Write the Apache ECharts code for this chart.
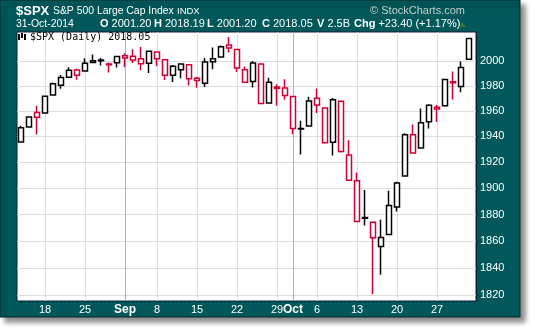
<!DOCTYPE html>
<html><head><meta charset="utf-8">
<script src="https://cdn.jsdelivr.net/npm/echarts@6/dist/echarts.min.js"></script>
<style>html,body{margin:0;padding:0;background:#fff}#c{width:535px;height:333px}</style>
</head><body><div id="c"></div>
<script>
// ---- data (S&P 500 daily) ----
const dates = ['Aug 13','Aug 14','Aug 15','Aug 18','Aug 19','Aug 20','Aug 21','Aug 22','Aug 25','Aug 26','Aug 27','Aug 28','Aug 29',
  'Sep 2','Sep 3','Sep 4','Sep 5','Sep 8','Sep 9','Sep 10','Sep 11','Sep 12','Sep 15','Sep 16','Sep 17','Sep 18','Sep 19','Sep 22','Sep 23','Sep 24','Sep 25','Sep 26','Sep 29','Sep 30',
  'Oct 1','Oct 2','Oct 3','Oct 6','Oct 7','Oct 8','Oct 9','Oct 10','Oct 13','Oct 14','Oct 15','Oct 16','Oct 17','Oct 20','Oct 21','Oct 22','Oct 23','Oct 24','Oct 27','Oct 28','Oct 29','Oct 30','Oct 31'];
const opens = [1935.60,1947.41,1958.87,1958.36,1972.73,1980.46,1986.82,1992.60,1991.74,1998.59,2000.54,1997.42,1998.45,
  2004.07,2003.57,2001.67,1998.00,2007.17,2000.73,1988.41,1992.85,1996.74,1986.04,1981.93,1999.30,2003.07,2012.74,2009.08,1992.78,1983.34,1997.32,1966.22,1978.96,1978.21,
  1971.44,1945.83,1948.12,1970.01,1962.36,1935.55,1967.68,1925.63,1905.65,1877.11,1874.18,1855.95,1864.91,1885.62,1909.38,1941.29,1931.02,1951.59,1962.97,1964.14,1983.29,1979.49,2001.20];
const highs = [1948.41,1955.23,1964.04,1971.99,1982.57,1988.57,1994.76,1993.54,2001.95,2005.04,2002.14,1998.55,2003.38,
  2006.12,2009.28,2011.17,2007.71,2007.17,2001.01,1996.66,1997.65,1996.74,1987.18,2002.28,2010.74,2012.34,2019.26,2009.08,1995.41,1999.79,1997.32,1986.37,1981.28,1985.17,
  1971.44,1952.32,1971.19,1977.84,1962.36,1970.36,1967.68,1936.98,1912.09,1898.71,1874.18,1876.01,1898.16,1905.03,1942.45,1949.31,1961.95,1965.27,1964.64,1985.05,1991.40,1999.40,2018.19];
const lows = [1935.60,1947.41,1941.50,1958.36,1972.73,1977.68,1986.82,1984.76,1991.74,1998.59,1996.20,1990.52,1994.65,
  1994.85,1998.14,1992.44,1990.10,1995.60,1984.61,1982.99,1985.93,1980.26,1978.48,1979.06,1993.29,2003.07,2006.59,1991.01,1982.77,1978.63,1965.99,1966.22,1964.04,1968.96,
  1941.72,1926.03,1948.12,1958.43,1935.10,1925.25,1927.56,1906.05,1874.14,1871.79,1820.66,1835.02,1864.91,1882.30,1909.38,1926.83,1931.02,1946.27,1951.37,1964.14,1969.04,1974.75,2001.20];
const closes = [1946.72,1955.18,1955.06,1971.74,1981.60,1986.51,1992.37,1988.40,1997.92,2000.02,2000.12,1996.74,2003.37,
  2002.28,2000.72,1997.65,2007.71,2001.54,1988.44,1995.69,1997.45,1985.54,1984.13,1998.98,2001.57,2011.36,2010.40,1994.29,1982.77,1998.30,1965.99,1982.85,1977.80,1972.29,
  1946.16,1946.17,1967.90,1964.82,1935.10,1968.89,1928.21,1906.13,1874.74,1877.70,1862.49,1862.76,1886.76,1904.01,1941.28,1927.11,1950.82,1964.58,1961.63,1985.05,1982.30,1994.65,2018.05];
const volumeLabel = '2.5B';
const tickDates = ['Aug 18','Aug 25','Sep 2','Sep 8','Sep 15','Sep 22','Sep 29','Oct 1','Oct 6','Oct 13','Oct 20','Oct 27'];
const tickLabels = ['18','25','Sep','8','15','22','29','Oct','6','13','20','27'];
const monthLabels = ['Sep','Oct'];
const yTicks = [1820,1840,1860,1880,1900,1920,1940,1960,1980,2000];

// ---- build ----
const RED = '#d20032', BLACK = '#000000';
const candleData = opens.map((o, i) => {
  const c = closes[i];
  const col = (i > 0 && c < closes[i - 1]) ? RED : BLACK;
  return {
    value: [o, c, lows[i], highs[i]],
    itemStyle: { color: '#ffffff', color0: col, borderColor: col, borderColor0: col }
  };
});
const tickIdx = tickDates.map(d => dates.indexOf(d));
const splitColors = tickLabels.map(l => monthLabels.includes(l) ? '#b4b4b4' : '#dcdcdc');

const n = closes.length;
const last = n - 1;
const chg = closes[last] - closes[last - 1];
const pct = chg / closes[last - 1] * 100;
const sgn = v => (v >= 0 ? '+' : '') + v.toFixed(2);

const FONT = '"Liberation Sans", Arial, sans-serif';
const yMin = 1815.7, yMax = 2023.3;

const chart = echarts.init(document.getElementById('c'), null, { renderer: 'canvas' });

const hdr = (label, value, x) => ({
  type: 'text', z: 100, x: x, y: 24,
  style: {
    text: '{b|' + label + '} ' + value, fill: '#fff', font: '11px ' + FONT, textVerticalAlign: 'middle',
    rich: { b: { fontWeight: 'bold', fontSize: 11, fontFamily: FONT, fill: '#fff' } }
  }
});

const option = {
  animation: false,
  grid: [
    { left: 17, right: 59, top: 32, bottom: 32, show: true, backgroundColor: '#ffffff', borderColor: '#0f1f3a', borderWidth: 1, outerBoundsMode: 'none', containLabel: false },
    { left: 17, width: 456, top: 32, bottom: 32, outerBoundsMode: 'none', containLabel: false }
  ],
  xAxis: [
    { type: 'value', gridIndex: 0, min: -0.5, max: 56.875, position: 'bottom',
      axisLine: { show: false, onZero: false },
      axisTick: { show: false, customValues: tickIdx },
      splitLine: { show: true, lineStyle: { color: splitColors, width: 1 } },
      axisLabel: { show: true, customValues: tickIdx, color: '#fff', fontSize: 11, fontFamily: FONT, margin: 3, hideOverlap: false,
        formatter: v => { const k = tickIdx.indexOf(Math.round(v)); const l = tickLabels[k] || ''; return monthLabels.includes(l) ? '{m|' + l + '}' : l; },
        rich: { m: { fontWeight: 'bold', fontSize: 12, fontFamily: FONT, color: '#fff' } } } },
    { type: 'category', gridIndex: 1, data: dates, boundaryGap: true, position: 'bottom',
      axisLine: { show: false, onZero: false },
      axisTick: { show: true, alignWithLabel: true, interval: 0, length: 2, lineStyle: { color: '#0f1f3a' } },
      axisLabel: { show: false }, splitLine: { show: false } }
  ],
  yAxis: [
    { type: 'log', logBase: 10, gridIndex: 0, min: yMin, max: yMax, position: 'right',
      axisLine: { show: true, onZero: false, lineStyle: { color: '#0f1f3a' } },
      axisTick: { show: true, length: 2, customValues: yTicks, lineStyle: { color: '#0f1f3a' } },
      minorTick: { show: false }, minorSplitLine: { show: false },
      splitLine: { show: true, lineStyle: { color: '#dcdcdc', width: 1 } },
      axisLabel: { show: true, customValues: yTicks, color: '#fff', fontSize: 11, fontFamily: FONT, margin: 4, hideOverlap: false,
        formatter: v => String(Math.round(v)) } },
    { type: 'log', logBase: 10, gridIndex: 1, min: yMin, max: yMax, show: false,
      axisLine: { show: false, onZero: false }, axisTick: { show: false }, axisLabel: { show: false }, splitLine: { show: false } }
  ],
  series: [{
    type: 'candlestick', xAxisIndex: 1, yAxisIndex: 1, barWidth: 5,
    data: candleData,
    itemStyle: { borderWidth: 1.5 },
    markLine: {
      silent: true, symbol: 'none', animation: false,
      lineStyle: { opacity: 0 },
      label: { show: true, position: 'end', distance: 4, formatter: closes[last].toFixed(2),
        color: '#000', fontWeight: 'bold', fontSize: 11, fontFamily: FONT,
        backgroundColor: '#fff', borderColor: '#000', borderWidth: 1, padding: [1, 2, 0, 2] },
      data: [{ yAxis: closes[last] }]
    }
  }],
  graphic: [
    { type: 'rect', z: -100, shape: { x: 0, y: 0, width: 520, height: 317 },
      style: { fill: '#00585a', stroke: '#0a2626', lineWidth: 1, shadowBlur: 5, shadowOffsetX: 5, shadowOffsetY: 5, shadowColor: 'rgba(0,0,0,0.45)' } },
    { type: 'text', z: 100, x: 16, y: 11, style: { text: '$SPX', fill: '#fff', font: 'bold 13px ' + FONT, textVerticalAlign: 'middle' } },
    { type: 'text', z: 100, x: 53, y: 11, style: { text: 'S&P 500 Large Cap Index', fill: '#fff', font: '10.4px ' + FONT, textVerticalAlign: 'middle' } },
    { type: 'text', z: 100, x: 177, y: 11, style: { text: 'INDX', fill: '#fff', font: '9.5px ' + FONT, textVerticalAlign: 'middle' } },
    { type: 'text', z: 100, x: 465, y: 11, style: { text: '© StockCharts.com', fill: '#c4cfcf', font: '11px ' + FONT, textAlign: 'right', textVerticalAlign: 'middle' } },
    { type: 'text', z: 100, x: 16, y: 24, style: { text: '31-Oct-2014', fill: '#fff', font: '10.4px ' + FONT, textVerticalAlign: 'middle' } },
    hdr('O', opens[last].toFixed(2), 100),
    hdr('H', highs[last].toFixed(2), 154),
    hdr('L', lows[last].toFixed(2), 207),
    hdr('C', closes[last].toFixed(2), 262),
    hdr('V', volumeLabel, 317),
    hdr('Chg', sgn(chg) + ' (' + sgn(pct) + '%)', 354),
    { type: 'polygon', z: 100, shape: { points: [[459, 27], [466, 27], [462.5, 22]] }, style: { fill: '#3f6f3a' } },
    // legend icon inside plot
    { type: 'group', z: 100, children: [
      { type: 'rect', z: 100, shape: { x: 18, y: 34, width: 2, height: 6 }, style: { fill: '#000' } },
      { type: 'rect', z: 100, shape: { x: 21, y: 33, width: 2, height: 5 }, style: { fill: '#000' } },
      { type: 'rect', z: 100, shape: { x: 24, y: 34, width: 2, height: 6 }, style: { fill: '#000' } }
    ] },
    { type: 'text', z: 100, x: 30, y: 37, style: { text: '$SPX (Daily) ' + closes[last].toFixed(2), fill: '#000', font: '10px "DejaVu Sans Mono", monospace', textVerticalAlign: 'middle' } }
  ]
};
chart.setOption(option);
</script>
</body></html>
